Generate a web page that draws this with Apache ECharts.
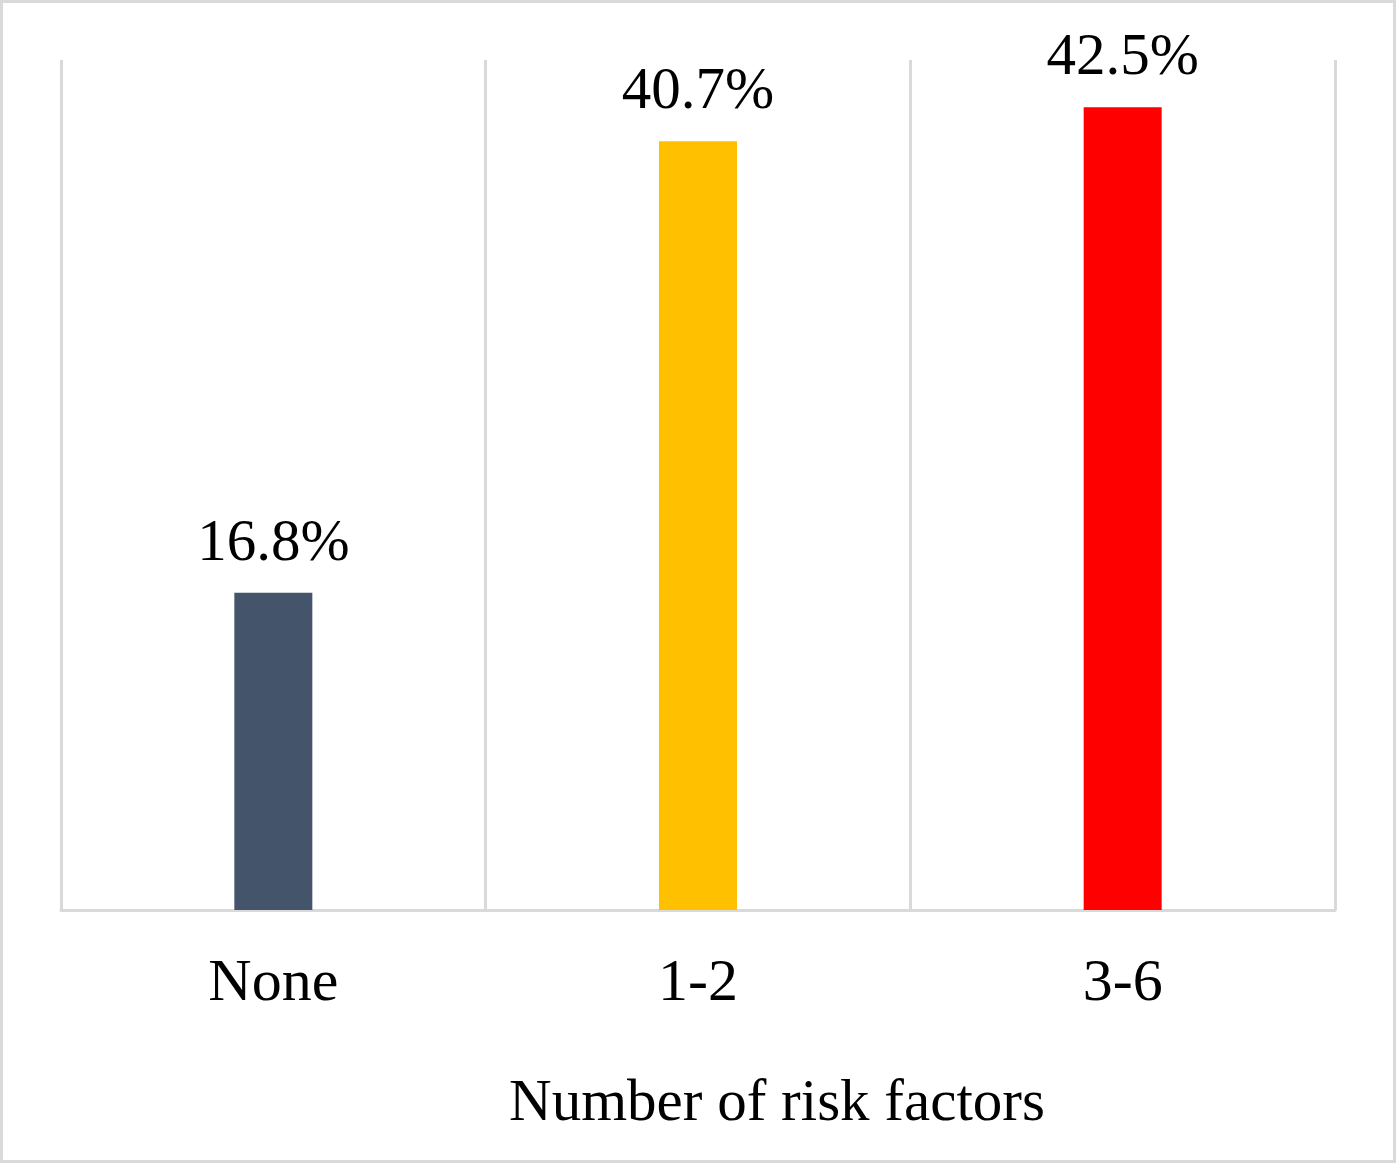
<!DOCTYPE html>
<html>
<head>
<meta charset="utf-8">
<script src="https://cdn.jsdelivr.net/npm/echarts@6/dist/echarts.min.js"></script>
<style>
html,body{margin:0;padding:0;background:#fff;}
#wrap{position:absolute;left:0;top:0;width:1390px;height:1157px;border:3px solid #d9d9d9;}
#c{width:1390px;height:1157px;}
</style>
</head>
<body>
<div id="wrap"><div id="c"></div></div>
<script>
const categories = ['None', '1-2', '3-6'];
const values = [16.8, 40.7, 42.5];
const barColors = ['#44546a', '#ffc000', '#ff0000'];
const axisTitle = 'Number of risk factors';

const chart = echarts.init(document.getElementById('c'));
const font = '"Liberation Serif", "Times New Roman", serif';
chart.setOption({
  animation: false,
  grid: {left: 58, right: 58, top: 57, bottom: 250},
  xAxis: {
    type: 'category',
    data: categories,
    axisLine: {show: true, lineStyle: {color: '#d9d9d9', width: 3}},
    axisTick: {show: false},
    splitLine: {show: true, lineStyle: {color: '#d9d9d9', width: 3}},
    axisLabel: {color: '#000', fontFamily: font, fontSize: 60, margin: 44},
    name: axisTitle,
    nameLocation: 'middle',
    nameGap: 165,
    nameTextStyle: {color: '#000', fontFamily: font, fontSize: 59, padding: [0, 0, 0, 158]}
  },
  yAxis: {
    type: 'value', min: 0, max: 45, interval: 5,
    show: false, splitLine: {show: false}
  },
  series: [{
    type: 'bar',
    barWidth: 78,
    data: values.map((v, i) => ({value: v, itemStyle: {color: barColors[i]}})),
    label: {
      show: true, position: 'top', distance: 19,
      color: '#000', fontFamily: font, fontSize: 59,
      formatter: p => p.value.toFixed(1) + '%'
    }
  }]
});
</script>
</body>
</html>
